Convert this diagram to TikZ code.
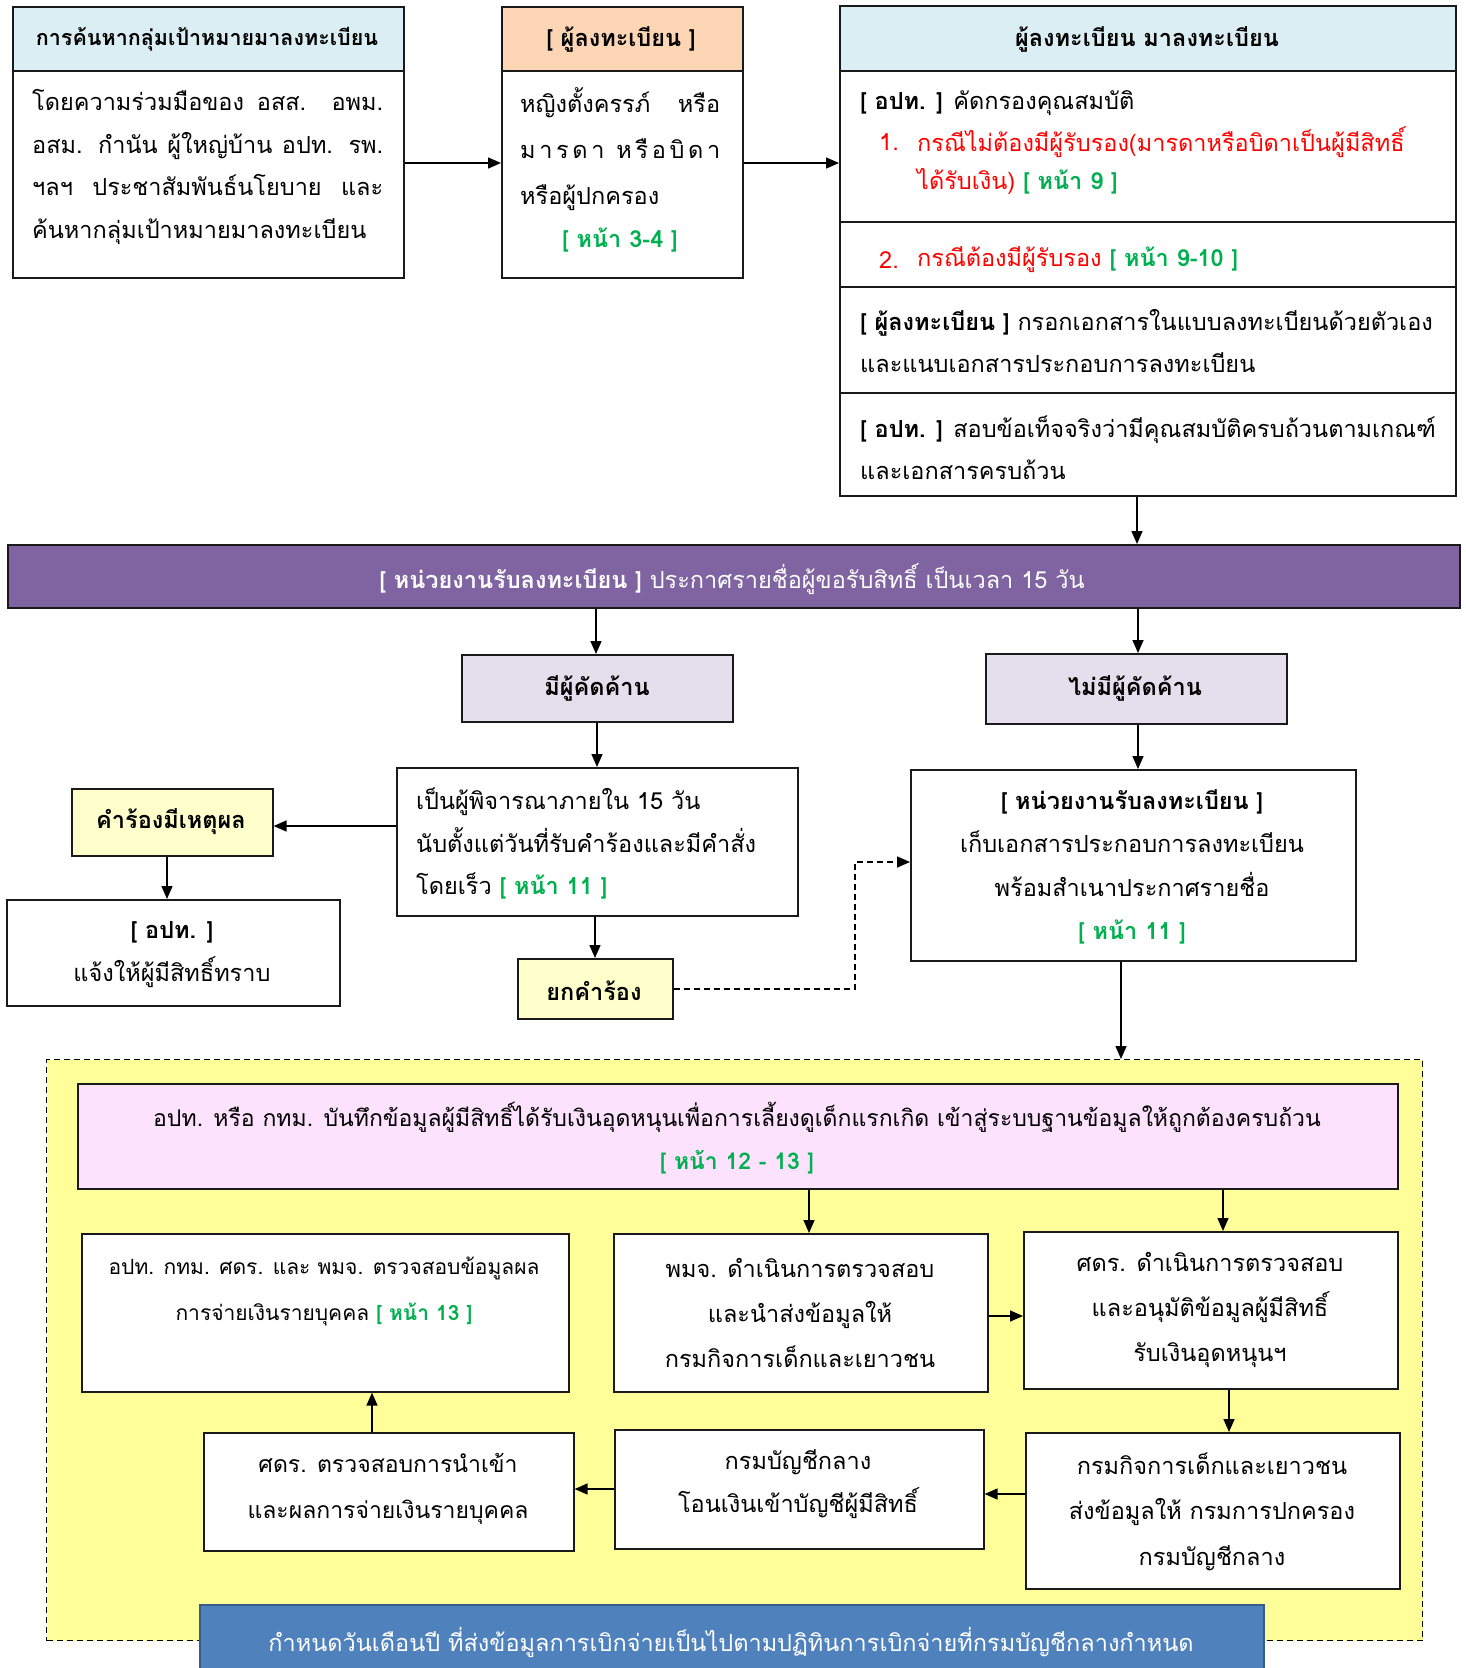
\documentclass[tikz,border=0pt]{standalone}
\usepackage{fontspec}
\setmainfont[Script=Thai]{Loma}
\usetikzlibrary{arrows.meta}
\definecolor{hdrblue}{HTML}{DAEEF3}
\definecolor{peach}{HTML}{FCD5B4}
\definecolor{barpurple}{HTML}{8064A2}
\definecolor{lavender}{HTML}{E4DFEC}
\definecolor{lightyel}{HTML}{FFFFCC}
\definecolor{zoneyel}{HTML}{FFFF99}
\definecolor{pinkbox}{HTML}{FDE2FD}
\definecolor{bluebox}{HTML}{4F81BD}
\definecolor{blueedge}{HTML}{385D8A}
\definecolor{refgreen}{HTML}{00B050}
\definecolor{refred}{HTML}{FF0000}
\definecolor{edge}{HTML}{1A1A1A}
\newcommand\thsize[2]{\fontsize{#1}{#2}\selectfont}
\newcommand\pg[1]{{\color{refgreen}\textbf{#1}}}
\begin{document}
\begin{tikzpicture}[x=1pt,y=-1pt,
  bx/.style={draw=edge, line width=1.6pt, inner sep=0pt, anchor=north west},
  txt/.style={inner sep=0pt, font=\thsize{23.5}{42}},
  btxt/.style={inner sep=0pt, font=\thsize{23.5}{42}\bfseries},
  arr/.style={-{Triangle[length=13pt,width=11pt]}, line width=1.5pt},
  darr/.style={-{Triangle[length=13pt,width=11pt]}, line width=1.5pt, dash pattern=on 6pt off 4pt}]
\useasboundingbox (0,0) rectangle (1466,1668);

% ---------- top row ----------
\node[bx, fill=hdrblue, minimum width=391pt, minimum height=64pt] (Ah) at (12,6) {};
\node[bx, fill=white, minimum width=391pt, minimum height=207pt] (Ab) at (12,70) {};
\node[bx, fill=peach, minimum width=241pt, minimum height=64pt] (Bh) at (501,6) {};
\node[bx, fill=white, minimum width=241pt, minimum height=207pt] (Bb) at (501,70) {};
\node[bx, fill=hdrblue, minimum width=616pt, minimum height=65pt] (Ch) at (839,5) {};
\node[bx, fill=white, minimum width=616pt, minimum height=151pt] (C1) at (839,70) {};
\node[bx, fill=white, minimum width=616pt, minimum height=65pt] (C2) at (839,221) {};
\node[bx, fill=white, minimum width=616pt, minimum height=106pt] (C3) at (839,286) {};
\node[bx, fill=white, minimum width=616pt, minimum height=103pt] (C4) at (839,392) {};

\node[btxt, font=\thsize{21.5}{42}\bfseries] (tAh) at (207,39) {การค้นหากลุ่มเป้าหมายมาลงทะเบียน};
\node[txt, anchor=west, align=left, font=\thsize{23.5}{42.7}] (tAb) at (32,167)
 {\makebox[351pt][s]{โดยความร่วมมือของ อสส. อพม.}\\
  \makebox[351pt][s]{อสม. กำนัน ผู้ใหญ่บ้าน อปท. รพ.}\\
  \makebox[351pt][s]{ฯลฯ ประชาสัมพันธ์นโยบาย และ}\\
  ค้นหากลุ่มเป้าหมายมาลงทะเบียน};
\node[btxt] (tBh) at (621,39) {[ ผู้ลงทะเบียน ]};
\node[txt, anchor=west, align=left, font=\thsize{23.5}{46}] (tBb) at (520,149)
 {\makebox[200pt][s]{หญิงตั้งครรภ์ หรือ}\\
  \makebox[200pt][s]{ม\hfill า\hfill ร\hfill ด\hfill า\hspace{12pt}ห\hfill รื\hfill อ\hfill บิ\hfill ด\hfill า}\\
  หรือผู้ปกครอง};
\node[txt] (tBp) at (620,240) {\pg{[ หน้า 3-4 ]}};
\node[btxt] (tCh) at (1147,39) {ผู้ลงทะเบียน มาลงทะเบียน};
\node[txt, anchor=west] (tC1a) at (860,103) {\textbf{[ อปท. ]} คัดกรองคุณสมบัติ};
\node[txt, anchor=west, text=refred] (tC1n) at (879,142) {1.};
\node[txt, anchor=west, text=refred] (tC1b) at (917,142) {กรณีไม่ต้องมีผู้รับรอง(มารดาหรือบิดาเป็นผู้มีสิทธิ์};
\node[txt, anchor=west] (tC1c) at (917,181) {{\color{refred}ได้รับเงิน)} \pg{[ หน้า 9 ]}};
\node[txt, anchor=west, text=refred] (tC2n) at (879,260) {2.};
\node[txt, anchor=west] (tC2) at (917,260) {{\color{refred}กรณีต้องมีผู้รับรอง} \pg{[ หน้า 9-10 ]}};
\node[txt, anchor=west, align=left, font=\thsize{23.5}{42}] (tC3) at (860,341.5)
 {\textbf{[ ผู้ลงทะเบียน ]} กรอกเอกสารในแบบลงทะเบียนด้วยตัวเอง\\ และแนบเอกสารประกอบการลงทะเบียน};
\node[txt, anchor=west, align=left, font=\thsize{23.5}{42}] (tC4) at (860,447.5)
 {\textbf{[ อปท. ]} สอบข้อเท็จจริงว่ามีคุณสมบัติครบถ้วนตามเกณฑ์\\ และเอกสารครบถ้วน};

\coordinate (yAB) at (0,163);
\draw[arr] (Ab.east |- yAB) -- (Bb.west |- yAB);
\draw[arr] (Bb.east |- yAB) -- (C1.west |- yAB);

% ---------- purple bar ----------
\node[bx, fill=barpurple, minimum width=1452pt, minimum height=63pt] (bar) at (7,544) {};
\node[txt, text=white] (tbar) at (732,579) {\textbf{[ หน่วยงานรับลงทะเบียน ]} ประกาศรายชื่อผู้ขอรับสิทธิ์ เป็นเวลา 15 วัน};
\coordinate (xC) at (1137,0);
\draw[arr] (C4.south -| xC) -- (bar.north -| xC);

% ---------- middle ----------
\node[bx, fill=lavender, minimum width=271pt, minimum height=67pt] (D) at (461,654) {};
\node[btxt] (tD) at (597,688) {มีผู้คัดค้าน};
\node[bx, fill=lavender, minimum width=301pt, minimum height=70pt] (E) at (985,653) {};
\node[btxt] (tE) at (1135,688) {ไม่มีผู้คัดค้าน};
\coordinate (xD) at (596,0);
\coordinate (xE) at (1138,0);
\draw[arr] (bar.south -| xD) -- (D.north -| xD);
\draw[arr] (bar.south -| xE) -- (E.north -| xE);

\node[bx, fill=white, minimum width=401pt, minimum height=148pt] (F) at (396,767) {};
\node[txt, anchor=west, align=left, font=\thsize{23.5}{42.5}] (tF) at (416,843.5)
 {เป็นผู้พิจารณาภายใน 15 วัน\\ นับตั้งแต่วันที่รับคำร้องและมีคำสั่ง\\ โดยเร็ว \pg{[ หน้า 11 ]}};
\coordinate (xF) at (597,0);
\draw[arr] (D.south -| xF) -- (F.north -| xF);

\node[bx, fill=lightyel, minimum width=201pt, minimum height=67pt] (G) at (71,788) {};
\node[btxt] (tG) at (171,822) {คำร้องมีเหตุผล};
\coordinate (yFG) at (0,826);
\draw[arr] (F.west |- yFG) -- (G.east |- yFG);

\node[bx, fill=white, minimum width=333pt, minimum height=106pt] (H) at (6,899) {};
\node[txt, align=center, font=\thsize{23.5}{43}] (tH) at (172,954.5) {\textbf{[ อปท. ]}\\ แจ้งให้ผู้มีสิทธิ์ทราบ};
\coordinate (xG) at (167,0);
\draw[arr] (G.south -| xG) -- (H.north -| xG);

\node[bx, fill=lightyel, minimum width=155pt, minimum height=60pt] (I) at (517,958) {};
\node[btxt] (tI) at (594,991) {ยกคำร้อง};
\coordinate (xI) at (595,0);
\draw[arr] (F.south -| xI) -- (I.north -| xI);

\node[bx, fill=white, minimum width=445pt, minimum height=191pt] (J) at (910,769) {};
\node[txt, align=center, font=\thsize{23.5}{43.3}] (tJ) at (1132,867)
 {\textbf{[ หน่วยงานรับลงทะเบียน ]}\\ เก็บเอกสารประกอบการลงทะเบียน\\ พร้อมสำเนาประกาศรายชื่อ\\ \pg{[ หน้า 11 ]}};
\draw[arr] (E.south -| xE) -- (J.north -| xE);
\coordinate (dk) at (855,862);
\draw[darr] (I.east) -| (dk) -- (J.west |- dk);

% ---------- yellow zone ----------
\node[bx, draw=black, fill=zoneyel, line width=1.4pt, dash pattern=on 6pt off 4pt, minimum width=1376pt, minimum height=581pt] (Y) at (46,1059) {};
\coordinate (xJ) at (1121,0);
\draw[arr] (J.south -| xJ) -- (Y.north -| xJ);

\node[bx, fill=pinkbox, minimum width=1320pt, minimum height=105pt] (K) at (77,1083) {};
\node[txt, align=center, font=\thsize{23}{43}] (tK) at (737,1138.5)
 {อปท. หรือ กทม. บันทึกข้อมูลผู้มีสิทธิ์ได้รับเงินอุดหนุนเพื่อการเลี้ยงดูเด็กแรกเกิด เข้าสู่ระบบฐานข้อมูลให้ถูกต้องครบถ้วน\\ \pg{[ หน้า 12 - 13 ]}};

\node[bx, fill=white, minimum width=487pt, minimum height=158pt] (L) at (81,1233) {};
\node[txt, align=center, font=\thsize{21}{46}] (tL) at (324,1291)
 {อปท. กทม. ศดร. และ พมจ. ตรวจสอบข้อมูลผล\\ การจ่ายเงินรายบุคคล \pg{[ หน้า 13 ]}};
\node[bx, fill=white, minimum width=374pt, minimum height=158pt] (M) at (613,1233) {};
\node[txt, align=center, font=\thsize{23.5}{45}] (tM) at (800,1313)
 {พมจ. ดำเนินการตรวจสอบ\\ และนำส่งข้อมูลให้\\ กรมกิจการเด็กและเยาวชน};
\node[bx, fill=white, minimum width=374pt, minimum height=157pt] (N) at (1023,1231) {};
\node[txt, align=center, font=\thsize{23.5}{45}] (tN) at (1210,1310)
 {ศดร. ดำเนินการตรวจสอบ\\ และอนุมัติข้อมูลผู้มีสิทธิ์\\ รับเงินอุดหนุนฯ};
\coordinate (xK1) at (809,0);
\coordinate (xK2) at (1223,0);
\draw[arr] (K.south -| xK1) -- (M.north -| xK1);
\draw[arr] (K.south -| xK2) -- (N.north -| xK2);
\coordinate (yMN) at (0,1316);
\draw[arr] (M.east |- yMN) -- (N.west |- yMN);

\node[bx, fill=white, minimum width=374pt, minimum height=156pt] (Q) at (1025,1432) {};
\node[txt, align=center, font=\thsize{23.5}{45.5}] (tQ) at (1212,1511.5)
 {กรมกิจการเด็กและเยาวชน\\ ส่งข้อมูลให้ กรมการปกครอง\\ กรมบัญชีกลาง};
\node[bx, fill=white, minimum width=369pt, minimum height=119pt] (P) at (614,1429) {};
\node[txt, align=center, font=\thsize{23.5}{43}] (tP) at (798,1484.5)
 {กรมบัญชีกลาง\\ โอนเงินเข้าบัญชีผู้มีสิทธิ์};
\node[bx, fill=white, minimum width=370pt, minimum height=118pt] (O) at (203,1432) {};
\node[txt, align=center, font=\thsize{23}{46}] (tO) at (388,1489)
 {ศดร. ตรวจสอบการนำเข้า\\ และผลการจ่ายเงินรายบุคคล};
\coordinate (xNQ) at (1229,0);
\draw[arr] (N.south -| xNQ) -- (Q.north -| xNQ);
\coordinate (yQP) at (0,1494);
\draw[arr] (Q.west |- yQP) -- (P.east |- yQP);
\coordinate (yPO) at (0,1489);
\draw[arr] (P.west |- yPO) -- (O.east |- yPO);
\coordinate (xOL) at (372,0);
\draw[arr] (O.north -| xOL) -- (L.south -| xOL);

% ---------- blue footer ----------
\node[bx, draw=blueedge, fill=bluebox, line width=2pt, minimum width=1064pt, minimum height=80pt] (R) at (199,1604) {};
\node[txt, text=white] (tR) at (731,1642) {กำหนดวันเดือนปี ที่ส่งข้อมูลการเบิกจ่ายเป็นไปตามปฏิทินการเบิกจ่ายที่กรมบัญชีกลางกำหนด};
\end{tikzpicture}
\end{document}
